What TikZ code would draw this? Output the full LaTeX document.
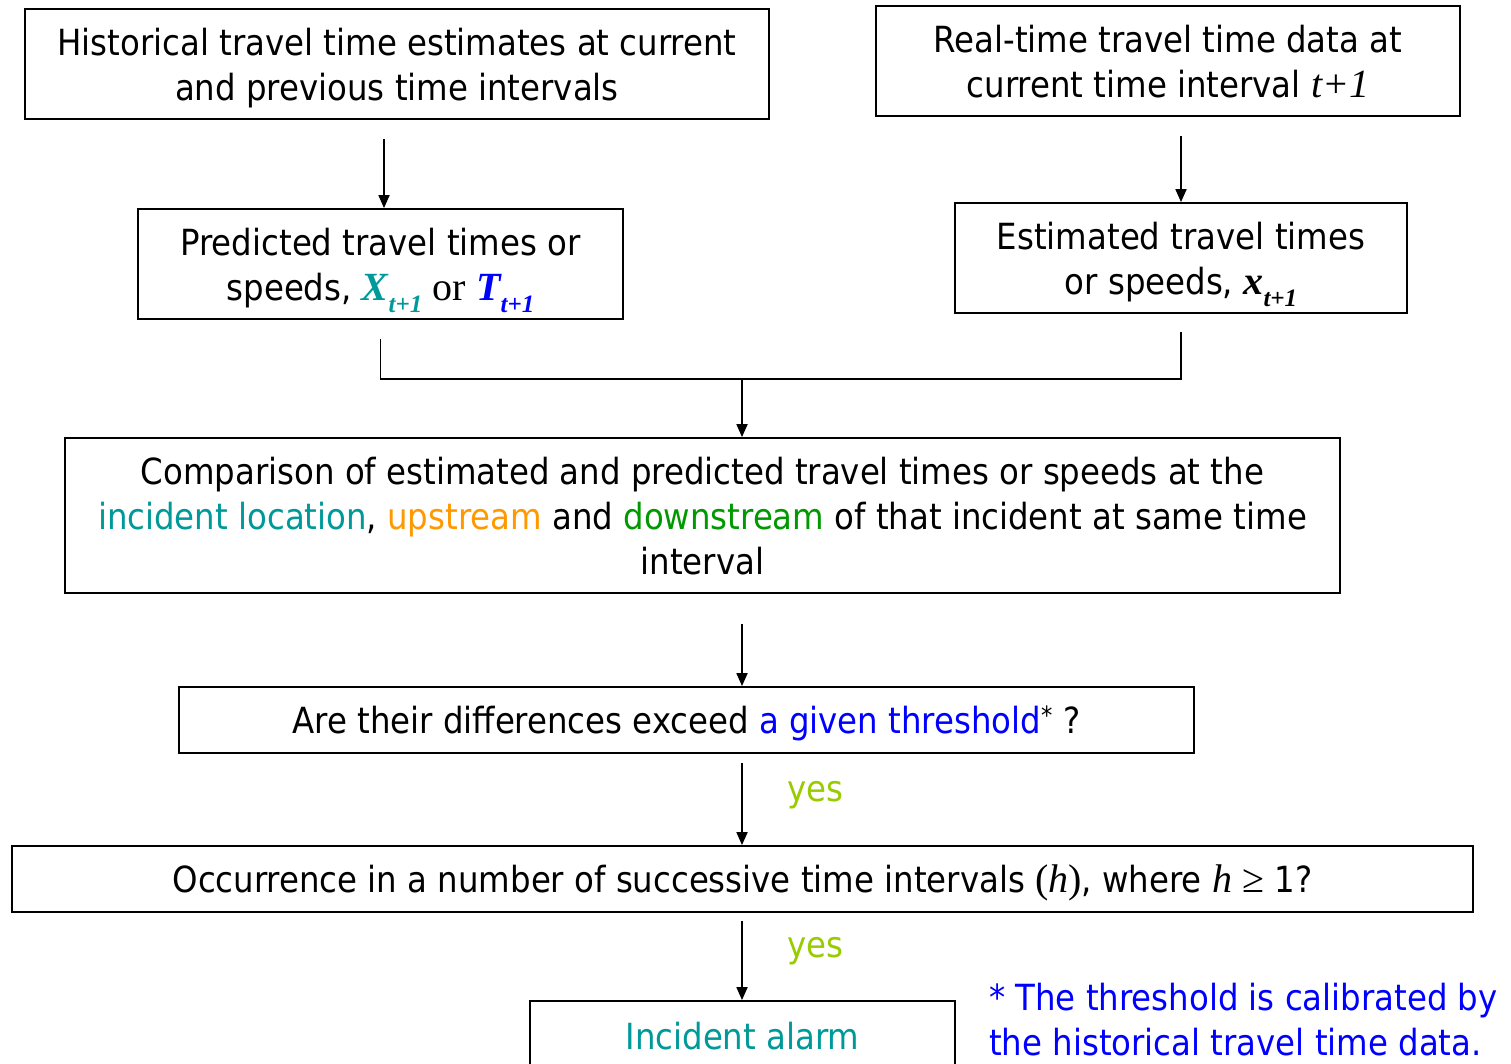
\documentclass[tikz,border=0pt]{standalone}
\usepackage{fontspec}
\setmainfont{DejaVu Sans Condensed}
\newfontfamily\tms{Liberation Serif}
\usetikzlibrary{arrows.meta}
\definecolor{tealc}{HTML}{009999}
\definecolor{orangec}{HTML}{FF9900}
\definecolor{greenc}{HTML}{009900}
\definecolor{bluec}{HTML}{0000FF}
\definecolor{yesc}{HTML}{99CC00}
\newcommand\subtt[1]{\raisebox{-0.3em}{\fontsize{25}{25}\selectfont #1}}
\newcommand\tmsbig{\tms\fontsize{40}{45}\selectfont}
\begin{document}
\begin{tikzpicture}[x=1pt,y=-1pt,
  box/.style={draw, line width=1.8pt, align=center, inner sep=0pt, text depth=0pt, font=\fontsize{36}{45}\selectfont},
  arr/.style={-{Triangle[length=13pt,width=11pt]}, line width=1.8pt},
  yeslbl/.style={text=yesc, font=\fontsize{36}{45}\selectfont, inner sep=0pt}]
\useasboundingbox (0,0) rectangle (1511,1063);
\clip (0,0) rectangle (1511,1063);
\fill[white] (0,0) rectangle (1511,1063);

\node[box, minimum width=744pt, minimum height=110pt] (h1) at (397,64)
  {Historical travel time estimates at current\\and previous time intervals};
\node[box, minimum width=584pt, minimum height=110pt] (r2) at (1168,61)
  {Real-time travel time data at\\current time interval {\tmsbig\itshape t+1}};
\node[box, minimum width=485pt, minimum height=110pt] (p3) at (380.5,264)
  {Predicted travel times or\\speeds, {\tmsbig\bfseries\itshape\color{tealc}X\subtt{t+1}} {\tmsbig or} {\tmsbig\bfseries\itshape\color{bluec}T\subtt{t+1}}};
\node[box, minimum width=452pt, minimum height=110pt] (e4) at (1181,258)
  {Estimated travel times\\or speeds, {\tmsbig\bfseries\itshape x\subtt{t+1}}};
\node[box, minimum width=1275pt, minimum height=155pt] (c5) at (702.5,515.5)
  {Comparison of estimated and predicted travel times or speeds at the\\
   \textcolor{tealc}{incident location}, \textcolor{orangec}{upstream} and \textcolor{greenc}{downstream} of that incident at same time\\interval};
\node[box, minimum width=1015pt, minimum height=66pt] (a6) at (686.5,720)
  {Are their differences exceed \textcolor{bluec}{a given threshold}\textsuperscript{*} ?};
\node[box, minimum width=1461pt, minimum height=66pt] (o7) at (742.5,879)
  {Occurrence in a number of successive time intervals {\tmsbig(\itshape h\/\upshape)}, where {\tmsbig\itshape h} {\tmsbig≥} 1?};
\node[box, minimum width=425pt, minimum height=70pt, text=tealc] (i8) at (742.5,1036)
  {Incident alarm};

\coordinate (j) at (742,379);

\draw[arr, shorten <=19pt] ([xshift=-13pt]h1.south) -- ([xshift=3.5pt]p3.north);
\draw[arr, shorten <=19pt] (e4.north |- r2.south) -- (e4.north);
\draw[line width=1.8pt, shorten <=19pt, shorten >=18pt] (p3.south) |- (j) -| (e4.south);
\draw[arr] (j) -- (c5.north -| j);
\draw[arr, shorten <=30pt] (c5.south -| j) -- (a6.north -| j);
\draw[arr, shorten <=9pt] (a6.south -| j) -- (o7.north -| j);
\draw[arr, shorten <=8pt] (o7.south -| j) -- (i8.north -| j);

\node[yeslbl] (y1) at (815,795) {yes};
\node[yeslbl] (y2) at (815,951) {yes};

\node[anchor=north west, align=left, text=bluec, inner sep=0pt, font=\fontsize{36}{45}\selectfont] (note) at (989,983)
  {* The threshold is calibrated by\\the historical travel time data.};
\end{tikzpicture}
\end{document}
